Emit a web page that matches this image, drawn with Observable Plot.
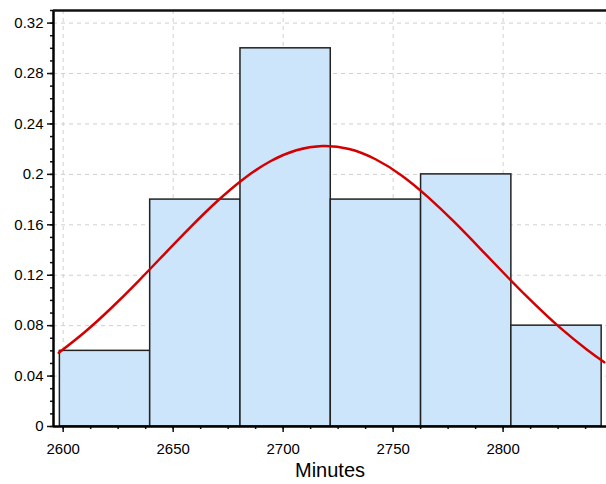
<!DOCTYPE html>
<html><head><meta charset="utf-8">
<script src="https://cdn.jsdelivr.net/npm/d3@7"></script>
<script src="https://cdn.jsdelivr.net/npm/@observablehq/plot@0.6"></script>
<style>body{margin:0;background:#fff}</style>
</head><body><div id="chart"></div>
<script>
// Histogram bins (Minutes) and relative frequencies
const binStart = [2598.5, 2639.55, 2680.6, 2721.65, 2762.7, 2803.75];
const binEnd   = [2639.55, 2680.6, 2721.65, 2762.7, 2803.75, 2844.8];
const freq     = [0.06, 0.18, 0.30, 0.18, 0.20, 0.08];

// Fitted normal curve
const curveX = [2598, 2610, 2622, 2634, 2646, 2658, 2670, 2682, 2694, 2706, 2718, 2730, 2742, 2754, 2766, 2778, 2790, 2802, 2814, 2826, 2838, 2846];
const curveY = [0.0585, 0.0752, 0.0942, 0.1150, 0.1368, 0.1584, 0.1787, 0.1964, 0.2102, 0.2191, 0.2225, 0.2201, 0.2120, 0.1990, 0.1818, 0.1619, 0.1404, 0.1186, 0.0976, 0.0782, 0.0611, 0.0510];

// Axis ticks
const xTicks = [2600, 2650, 2700, 2750, 2800];
const xMinor = [2600, 2612.5, 2625, 2637.5, 2650, 2662.5, 2675, 2687.5, 2700, 2712.5, 2725, 2737.5, 2750, 2762.5, 2775, 2787.5, 2800, 2812.5, 2825, 2837.5];
const yTicks = [0, 0.04, 0.08, 0.12, 0.16, 0.2, 0.24, 0.28, 0.32];
const yMinor = [0, 0.01, 0.02, 0.03, 0.04, 0.05, 0.06, 0.07, 0.08, 0.09, 0.1, 0.11, 0.12, 0.13, 0.14, 0.15, 0.16, 0.17, 0.18, 0.19, 0.2, 0.21, 0.22, 0.23, 0.24, 0.25, 0.26, 0.27, 0.28, 0.29, 0.3, 0.31, 0.32, 0.33];
const xLabel = "Minutes";

const bars = binStart.map((s, i) => ({x1: s, x2: binEnd[i], y: freq[i]}));
const curve = curveX.map((x, i) => ({x, y: curveY[i]}));
const xMin = 2595.6, xMax = 2847, yMax = 0.33;

const plot = Plot.plot({
  width: 606, height: 484,
  marginLeft: 53, marginRight: 0, marginTop: 10, marginBottom: 58,
  x: {domain: [xMin, xMax]},
  y: {domain: [0, yMax]},
  style: {fontFamily: "'Liberation Sans', Arial, sans-serif", fontSize: "15px", color: "#000", background: "#fff"},
  marks: [
    Plot.gridX(xTicks, {stroke: "#d0d0d0", strokeOpacity: 1, strokeDasharray: "4,4"}),
    Plot.gridY(yTicks.filter(d => d > 0), {stroke: "#d0d0d0", strokeOpacity: 1, strokeDasharray: "4,4"}),
    Plot.rectY(bars, {x1: "x1", x2: "x2", y: "y", fill: "#cde5fb", stroke: "#222", strokeWidth: 1.5}),
    Plot.line(curve, {x: "x", y: "y", stroke: "#d40000", strokeWidth: 2.5, curve: "natural"}),
    Plot.axisY(yMinor, {tickSize: 3, text: null, label: null, strokeWidth: 1.5, stroke: "#111"}),
    Plot.axisY(yTicks, {tickSize: 6, tickPadding: 4, label: null, strokeWidth: 1.5, stroke: "#111", fill: "#000", tickFormat: d => String(d)}),
    Plot.axisX(xMinor, {tickSize: 3, text: null, label: null, strokeWidth: 1.5, stroke: "#111"}),
    Plot.axisX(xTicks, {tickSize: 6, tickPadding: 11, label: null, strokeWidth: 1.5, stroke: "#111", fill: "#000", tickFormat: d => String(d)}),
    Plot.ruleX([xMin], {stroke: "#000", strokeWidth: 2.5}),
    Plot.ruleY([0], {stroke: "#000", strokeWidth: 2.5}),
    Plot.ruleY([yMax], {stroke: "#111", strokeWidth: 2.5}),
    Plot.text([xLabel], {frameAnchor: "bottom", dy: 50, fontSize: 20, fill: "#000"})
  ]
});
document.getElementById("chart").appendChild(plot);
</script>
</body></html>
